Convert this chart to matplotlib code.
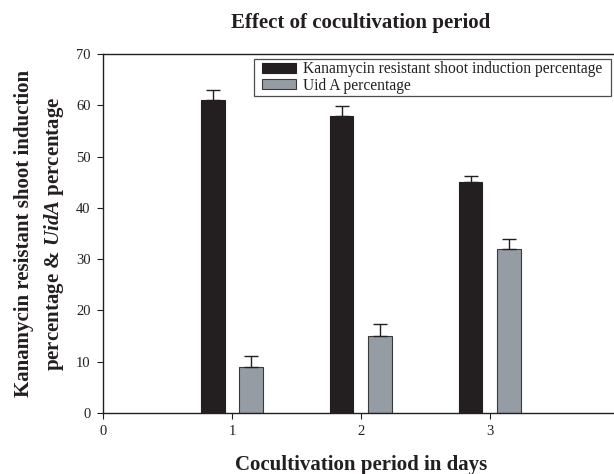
import matplotlib
matplotlib.use("Agg")
import matplotlib.pyplot as plt
import numpy as np

plt.rcParams['font.family'] = ['Liberation Serif']
plt.rcParams['mathtext.fontset'] = 'custom'
plt.rcParams['mathtext.it'] = 'Liberation Serif:italic:bold'
plt.rcParams['mathtext.rm'] = 'Liberation Serif:bold'

days = [1, 2, 3]
kan = [61, 58, 45]
kan_err = [2.1, 1.8, 1.2]
uid = [9, 15, 32]
uid_err = [2.1, 2.3, 1.9]
labels = ["Kanamycin resistant shoot induction percentage", "Uid A percentage"]

fig = plt.figure(figsize=(6.14, 4.74), dpi=100)
ax = fig.add_axes([0.1678, 0.1287, 0.840, 0.757])

x = np.array(days, dtype=float)
w = 0.185
ax.bar(x - 0.15, kan, w, color='#231f20', edgecolor='#231f20', linewidth=0.8,
       yerr=[[0]*3, kan_err], error_kw=dict(ecolor='#231f20', elinewidth=1, capsize=5, capthick=1),
       label=labels[0], zorder=2)
ax.bar(x + 0.15, uid, w, color='#969ca3', edgecolor='#3a3a3a', linewidth=0.8,
       yerr=[[0]*3, uid_err], error_kw=dict(ecolor='#231f20', elinewidth=1, capsize=5, capthick=1),
       label=labels[1], zorder=2)

ax.set_xlim(0, 4)
ax.set_ylim(0, 70)
ax.set_xticks([0, 1, 2, 3])
ax.set_yticks(range(0, 71, 10))
ax.tick_params(direction='out', length=4, width=0.8, labelsize=10.5, colors='#231f20', pad=5)
ax.spines['right'].set_visible(False)
for s in ['left', 'bottom', 'top']:
    ax.spines[s].set_linewidth(1.0)
    ax.spines[s].set_color('#231f20')

ax.set_title("Effect of cocultivation period", fontsize=15, fontweight='bold', pad=19,
             color='#231f20')
ax.set_xlabel("Cocultivation period in days", fontsize=15, fontweight='bold', labelpad=12,
              color='#231f20')
ax.set_ylabel("Kanamycin resistant shoot induction\npercentage & $\\mathit{UidA}$ percentage",
              fontsize=15, fontweight='bold', labelpad=7, linespacing=1.5, color='#231f20')

leg = ax.legend(loc='upper right', bbox_to_anchor=(0.970, 0.983), fontsize=11.2, frameon=True,
                fancybox=False, edgecolor='#231f20', borderpad=0.05, labelspacing=0.05,
                handlelength=2.2, handleheight=0.6, handletextpad=0.45, borderaxespad=0)
frame = leg.get_frame()
frame.set_linewidth(0.9)
frame.set_boxstyle('square', pad=0.5)
frame.set_mutation_aspect(0.2)
for t in leg.get_texts():
    t.set_color('#231f20')

fig.savefig("out.png", dpi=100)
